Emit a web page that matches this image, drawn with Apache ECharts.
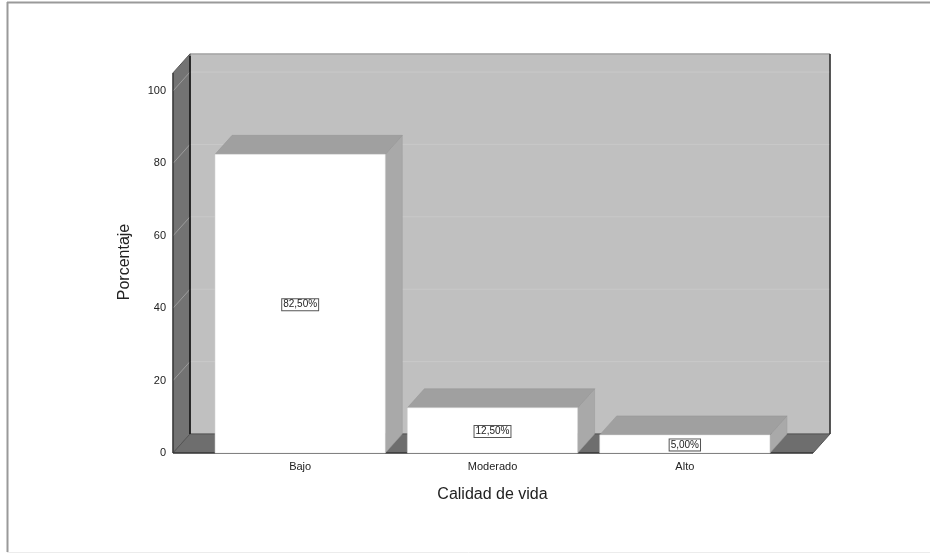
<!DOCTYPE html>
<html>
<head>
<meta charset="utf-8">
<script src="https://cdn.jsdelivr.net/npm/echarts@6/dist/echarts.min.js"></script>
<style>
  html, body { margin: 0; padding: 0; background: #fff; }
  #chart { width: 930px; height: 557px; }
</style>
</head>
<body>
<div id="chart"></div>
<script>
// SPSS-style 3D bar chart: "Calidad de vida" percentages
const categories = ['Bajo', 'Moderado', 'Alto'];
const percentages = [82.5, 12.5, 5.0];
const valueLabels = ['82,50%', '12,50%', '5,00%'];
const yTickValues = [20, 40, 60, 80, 100];

const DX = 17, DY = -19;           // depth offset of the 3D box
const FONT = 'Liberation Sans, Arial, sans-serif';

const chart = echarts.init(document.getElementById('chart'));

function renderWalls(params, api) {
  const cs = params.coordSys;
  const yZero = api.coord([0, 0])[1];
  const yTop = api.coord([0, 105])[1];
  const x0 = cs.x - 31;
  const x1 = cs.x + cs.width + 32;
  const children = [];
  // back wall
  children.push({ type: 'rect', shape: { x: x0 + DX, y: yTop + DY, width: x1 - x0, height: yZero - yTop },
    style: { fill: '#c0c0c0', stroke: '#8a8a8a', lineWidth: 1 } });
  yTickValues.forEach(v => {
    const y = api.coord([0, v])[1];
    children.push({ type: 'line', shape: { x1: x0 + DX, y1: y + DY, x2: x1 + DX, y2: y + DY },
      style: { stroke: '#c9c9c9', lineWidth: 1 } });
  });
  // left wall
  children.push({ type: 'polygon', shape: { points: [[x0, yTop], [x0 + DX, yTop + DY], [x0 + DX, yZero + DY], [x0, yZero]] },
    style: { fill: '#737373', stroke: '#555', lineWidth: 1 } });
  yTickValues.forEach(v => {
    const y = api.coord([0, v])[1];
    children.push({ type: 'line', shape: { x1: x0, y1: y, x2: x0 + DX, y2: y + DY },
      style: { stroke: '#9c9c9c', lineWidth: 1 } });
  });
  // floor
  children.push({ type: 'polygon', shape: { points: [[x0, yZero], [x0 + DX, yZero + DY], [x1 + DX, yZero + DY], [x1, yZero]] },
    style: { fill: '#6e6e6e', stroke: '#555', lineWidth: 1 } });
  // dark edges
  children.push({ type: 'line', shape: { x1: x0 + DX, y1: yTop + DY + 2, x2: x0 + DX, y2: yZero + DY },
    style: { stroke: '#111', lineWidth: 1.5 } });
  children.push({ type: 'line', shape: { x1: x1 + DX, y1: yTop + DY, x2: x1 + DX, y2: yZero + DY },
    style: { stroke: '#333', lineWidth: 1.5 } });
  children.push({ type: 'line', shape: { x1: x0, y1: yZero, x2: x1, y2: yZero },
    style: { stroke: '#222', lineWidth: 1.2 } });
  children.push({ type: 'line', shape: { x1: x0, y1: yTop, x2: x0, y2: yZero },
    style: { stroke: '#333', lineWidth: 1.2 } });
  return { type: 'group', children };
}

function renderBar(params, api) {
  const idx = api.value(0);
  const val = api.value(1);
  const base = api.coord([idx, 0]);
  const top = api.coord([idx, val]);
  const w = api.size([1, 0])[0] * 0.885;
  const xl = base[0] - w / 2, xr = base[0] + w / 2;
  const yb = base[1], yt = top[1];
  return {
    type: 'group',
    children: [
      { type: 'polygon', shape: { points: [[xr, yt], [xr + DX, yt + DY], [xr + DX, yb + DY], [xr, yb]] },
        style: { fill: '#a9a9a9', stroke: '#9a9a9a', lineWidth: 0.5 } },
      { type: 'polygon', shape: { points: [[xl, yt], [xl + DX, yt + DY], [xr + DX, yt + DY], [xr, yt]] },
        style: { fill: '#a0a0a0', stroke: '#959595', lineWidth: 0.5 } },
      { type: 'rect', shape: { x: xl, y: yt, width: w, height: yb - yt },
        style: { fill: '#ffffff', stroke: '#d8d8d8', lineWidth: 0.5 } },
      { type: 'text', x: base[0], y: (yt + yb) / 2 + 1,
        style: { text: valueLabels[params.dataIndex], align: 'center', verticalAlign: 'middle',
          fill: '#222', font: '10px ' + FONT, backgroundColor: '#fff',
          borderColor: '#555', borderWidth: 1, padding: [1, 1, 0, 1] } }
    ]
  };
}

chart.setOption({
  animation: false,
  backgroundColor: '#fff',
  grid: { left: 204, right: 149, top: 91, bottom: 104 },
  xAxis: {
    type: 'category',
    data: categories,
    axisLine: { show: false },
    axisTick: { show: false },
    axisLabel: { color: '#222', fontSize: 11, fontFamily: FONT, margin: 8 },
    name: 'Calidad de vida',
    nameLocation: 'middle',
    nameGap: 34,
    nameTextStyle: { color: '#222', fontSize: 16, fontFamily: FONT }
  },
  yAxis: {
    type: 'value',
    min: 0, max: 100, interval: 20,
    offset: 31,
    axisLine: { show: false },
    axisTick: { show: false },
    splitLine: { show: false },
    axisLabel: { color: '#222', fontSize: 11, fontFamily: FONT, margin: 7 }
  },
  graphic: [
    { type: 'text', x: 125, y: 262, rotation: Math.PI / 2,
      style: { text: 'Porcentaje', align: 'center', verticalAlign: 'middle', fill: '#222', font: '16px ' + FONT } },
    { type: 'line', shape: { x1: 7, y1: 2.5, x2: 930, y2: 2.5 }, style: { stroke: '#9a9a9a', lineWidth: 2 } },
    { type: 'line', shape: { x1: 7.5, y1: 2, x2: 7.5, y2: 552 }, style: { stroke: '#9a9a9a', lineWidth: 2 } },
    { type: 'line', shape: { x1: 7, y1: 552.5, x2: 930, y2: 552.5 }, style: { stroke: '#ececec', lineWidth: 1 } }
  ],
  series: [
    { type: 'custom', name: 'walls', renderItem: renderWalls, data: [[0, 0]], z: 1, silent: true },
    { type: 'custom', name: 'Porcentaje', renderItem: renderBar, z: 2,
      data: percentages.map((v, i) => [i, v]) }
  ]
});
</script>
</body>
</html>
